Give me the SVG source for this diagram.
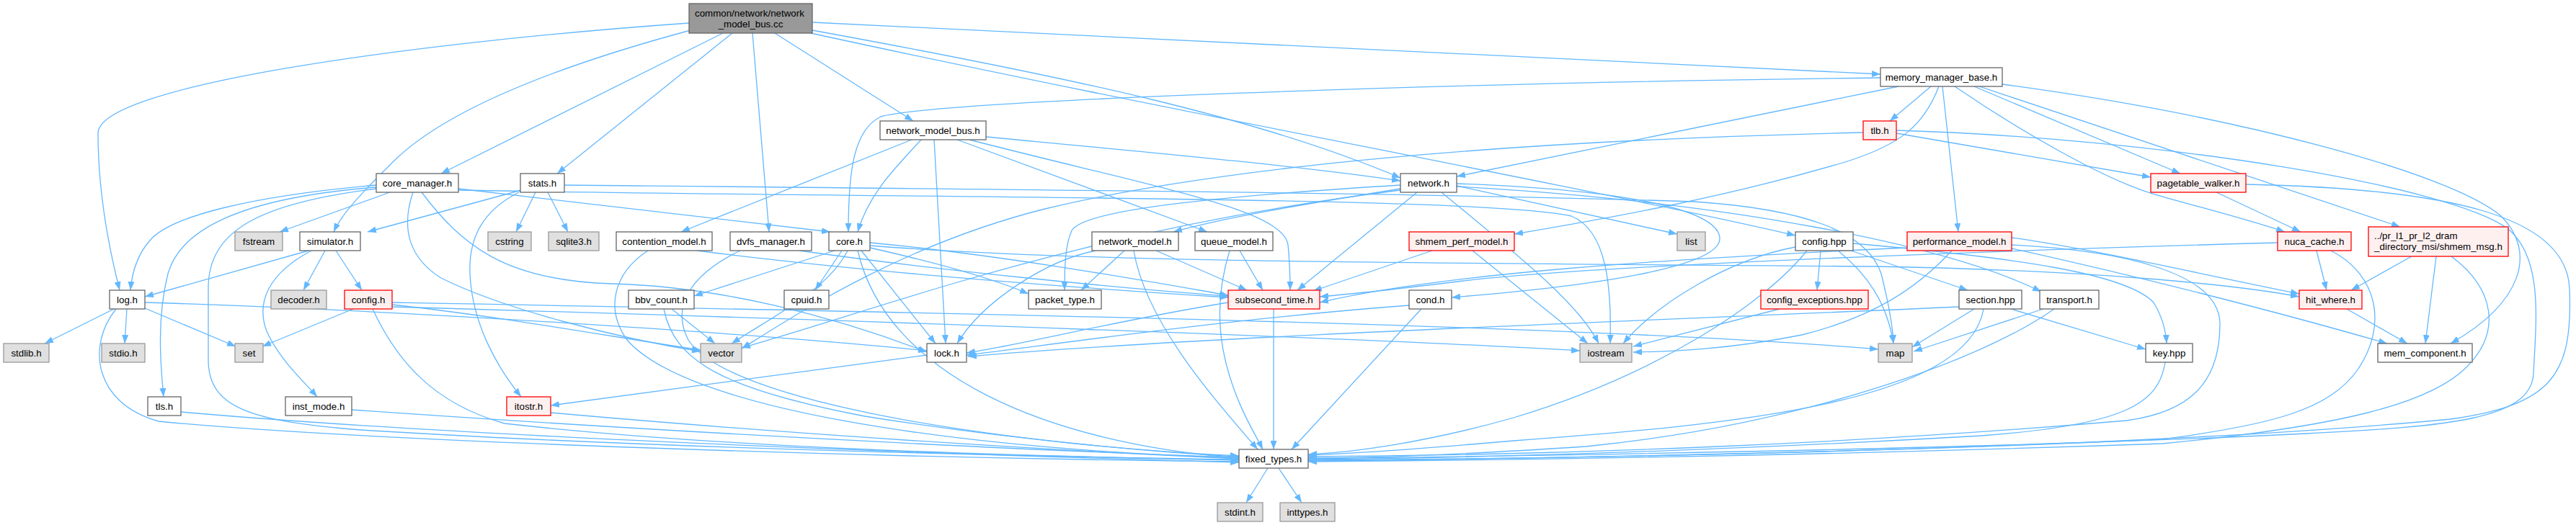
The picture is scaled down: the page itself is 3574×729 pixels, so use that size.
<svg xmlns="http://www.w3.org/2000/svg" width="3574" height="729" viewBox="0 0 3574 729">
<defs>
<marker id="a" markerWidth="12" markerHeight="9" refX="12" refY="4.5" orient="auto" markerUnits="userSpaceOnUse" viewBox="0 0 12 9"><path d="M0,0 L12,4.5 L0,9 z" fill="#63b8ff"/></marker>
<style>
.e path{fill:none;stroke:#63b8ff;stroke-width:1.3;marker-end:url(#a)}
rect{stroke-width:1.3}
.w rect{fill:#ffffff;stroke:#666666}
.g rect{fill:#e0e0e0;stroke:#999999}
.r rect{fill:#fff0f0;stroke:#ff0000}
.k rect{fill:#999999;stroke:#666666}
text{font-family:"Liberation Sans",Arial,Helvetica,sans-serif;font-size:13.33px;fill:#000000;text-anchor:middle}
text.s{text-anchor:start}
</style>
</defs>
<rect width="3574" height="729" fill="#ffffff"/>
<g class="e" id="edges">
<path d="M956,32 C560,60 136,120 136,185 C136,260 150,340 166,403"/>
<path d="M958,42 C780,90 620,150 545,225 C505,265 475,295 463,322"/>
<path d="M1003,46 L612,241"/>
<path d="M1016,46 L773,241"/>
<path d="M1044,46 L1067,322"/>
<path d="M1075,46 L1267,168"/>
<path d="M1127,31 C1700,55 2200,85 2609,103"/>
<path d="M1127,42 C1500,110 1750,165 1943,247"/>
<path d="M1125,46 C1600,150 2250,270 2491,327"/>
<path d="M541,267 L388,322"/>
<path d="M522,257 C350,272 235,300 207,335 C190,355 183,380 181,403"/>
<path d="M522,260 C330,275 250,320 233,380 C218,440 222,500 227,551"/>
<path d="M522,262 C360,282 289,320 289,400 L289,500 C289,565 345,585 500,597 C900,622 1400,633 1719,638"/>
<path d="M636,262 L1152,322"/>
<path d="M585,267 C640,340 700,390 850,394 C1000,398 1160,440 1286,489"/>
<path d="M573,267 C555,320 570,360 612,386 C700,430 860,470 972,488"/>
<path d="M636,264 C1300,276 2050,272 2180,300 C2230,320 2236,400 2234,477"/>
<path d="M723,264 L510,322"/>
<path d="M743,267 L716,322"/>
<path d="M760,267 L788,322"/>
<path d="M720,267 C670,292 650,330 652,380 C655,450 690,510 723,551"/>
<path d="M783,257 C1300,262 2000,268 2350,280 C2500,290 2590,320 2610,380 C2620,420 2626,450 2627,477"/>
<path d="M428,348 L201,412"/>
<path d="M432,348 C372,380 355,420 370,460 C388,500 422,530 440,551"/>
<path d="M451,348 L421,403"/>
<path d="M466,348 L502,403"/>
<path d="M490,429 L364,481"/>
<path d="M517,429 C550,500 600,560 700,588 C1000,622 1400,633 1719,639"/>
<path d="M544,423 C700,440 850,468 972,486"/>
<path d="M544,420 C1200,432 2200,450 2606,485"/>
<path d="M544,426 C1200,445 1900,470 2192,487"/>
<path d="M158,429 L62,477"/>
<path d="M176,429 L173,477"/>
<path d="M201,428 L327,481"/>
<path d="M161,429 C120,480 130,560 220,585 C500,612 1200,636 1719,641"/>
<path d="M201,420 C600,432 1100,468 1286,487"/>
<path d="M251,572 C600,603 1200,628 1719,642"/>
<path d="M488,569 C900,598 1400,625 1719,635"/>
<path d="M764,573 C1100,603 1450,625 1719,637"/>
<path d="M1286,493 L764,563"/>
<path d="M932,429 L992,477"/>
<path d="M921,429 C935,500 1000,540 1200,578 C1400,610 1600,628 1719,634"/>
<path d="M1158,348 L963,411"/>
<path d="M1168,348 L1131,403"/>
<path d="M1176,348 C1150,400 1080,435 1015,477"/>
<path d="M1195,348 L1298,477"/>
<path d="M1207,344 C1300,365 1380,388 1427,408"/>
<path d="M1207,337 C1400,355 1600,392 1704,410"/>
<path d="M1190,348 C1230,520 1450,615 1719,636"/>
<path d="M1207,341 C1500,365 2000,365 2600,370 C2900,375 3100,395 3190,412"/>
<path d="M967,348 C1200,378 1500,400 1704,413"/>
<path d="M899,348 C850,380 840,430 870,472 C950,565 1300,622 1719,636"/>
<path d="M1027,348 C960,380 930,425 955,472 C1010,560 1400,618 1719,633"/>
<path d="M1109,348 C1300,375 1550,400 1704,411"/>
<path d="M1368,190 C1600,212 1800,230 1943,251"/>
<path d="M1265,194 L945,322"/>
<path d="M1278,194 C1240,235 1205,270 1190,322"/>
<path d="M1296,194 L1312,477"/>
<path d="M1328,194 L1675,322"/>
<path d="M1345,194 C1600,260 1780,290 1787,340 C1790,370 1790,385 1790,403"/>
<path d="M2021,258 L2327,325"/>
<path d="M1943,262 C1800,285 1700,302 1628,322"/>
<path d="M1943,257 C1700,272 1505,290 1487,320 C1478,340 1477,370 1477,403"/>
<path d="M1966,267 L1800,403"/>
<path d="M2021,255 C2250,263 2382,290 2386,330 C2390,372 2200,398 2014,413"/>
<path d="M2021,259 C2400,280 2700,340 2832,405"/>
<path d="M1943,264 C1500,320 1250,420 1029,483"/>
<path d="M2000,267 C2100,350 2190,420 2218,477"/>
<path d="M1560,348 L1500,403"/>
<path d="M1604,348 L1730,403"/>
<path d="M1573,348 C1590,450 1690,560 1745,624"/>
<path d="M1520,348 C1450,362 1362,420 1328,477"/>
<path d="M1720,348 L1752,403"/>
<path d="M1706,348 C1690,400 1688,450 1700,500 C1714,560 1740,600 1752,624"/>
<path d="M1987,348 L1822,404"/>
<path d="M2043,348 L2203,477"/>
<path d="M2609,108 C2000,115 1300,140 1222,162 C1185,180 1177,235 1177,322"/>
<path d="M2634,120 L2021,245"/>
<path d="M2679,120 L2622,168"/>
<path d="M2690,120 C2670,172 2640,200 2560,225 C2400,272 2250,300 2101,325"/>
<path d="M2695,120 L2717,322"/>
<path d="M2712,120 C2800,180 2920,250 2990,270 C3060,290 3120,305 3170,322"/>
<path d="M2739,120 L3025,241"/>
<path d="M2746,120 L3330,315"/>
<path d="M2778,117 C3100,160 3400,240 3470,300 C3520,350 3500,420 3400,477"/>
<path d="M2631,185 L2984,246"/>
<path d="M2631,181 C3000,192 3400,258 3480,318 C3530,360 3518,450 3515,520 C3510,582 3400,592 3200,602 C2800,622 2200,632 1815,637"/>
<path d="M2585,184 C2100,195 1700,230 1450,290 C1250,340 1100,440 1029,484"/>
<path d="M3075,267 L3192,322"/>
<path d="M3116,256 C3400,262 3560,300 3565,400 C3570,522 3540,562 3400,582 C3000,620 2300,636 1815,639"/>
<path d="M3214,348 L3228,403"/>
<path d="M3234,348 C3300,382 3312,452 3272,512 C3232,570 3150,590 3000,610 C2600,628 2200,636 1815,640"/>
<path d="M3160,337 C2700,350 2200,370 2030,390 C1950,400 1880,408 1831,412"/>
<path d="M3346,356 L3262,403"/>
<path d="M3380,356 L3365,477"/>
<path d="M3401,356 C3460,400 3472,460 3422,510 C3372,560 3250,592 3000,616 C2600,630 2200,638 1815,641"/>
<path d="M3256,429 L3340,477"/>
<path d="M2791,330 C2900,345 3050,380 3190,408"/>
<path d="M2791,345 C2950,380 3150,430 3312,477"/>
<path d="M2791,340 C2950,348 3080,380 3080,450 C3080,530 3040,572 2950,584 C2600,614 2200,632 1815,634"/>
<path d="M2708,348 C2660,400 2600,440 2500,465 C2400,485 2320,488 2266,489"/>
<path d="M2646,344 C2300,360 2000,380 1831,420"/>
<path d="M2526,348 L2521,403"/>
<path d="M2568,348 L2730,403"/>
<path d="M2550,348 C2590,380 2618,420 2627,477"/>
<path d="M2491,343 C2400,360 2300,420 2252,477"/>
<path d="M2507,348 C2450,420 2300,520 2100,580 C1980,614 1880,628 1815,631"/>
<path d="M2571,338 C2800,358 2950,380 2988,420 C3000,440 3005,460 3006,477"/>
<path d="M2469,429 L2266,481"/>
<path d="M2790,429 L2977,485"/>
<path d="M2739,429 L2653,482"/>
<path d="M2752,429 C2730,560 2400,590 2100,612 C1950,625 1870,630 1815,632"/>
<path d="M2718,426 C2300,445 1700,465 1343,495"/>
<path d="M2835,429 L2655,488"/>
<path d="M2850,429 C2750,500 2500,590 2200,620 C2000,633 1900,636 1815,636"/>
<path d="M3004,503 C2995,560 2950,590 2750,605 C2400,625 2100,635 1815,638"/>
<path d="M1767,429 L1767,624"/>
<path d="M1704,420 C1550,445 1420,478 1341,490"/>
<path d="M1972,429 L1792,624"/>
<path d="M1955,424 C1700,443 1450,480 1341,493"/>
<path d="M1759,650 L1729,698"/>
<path d="M1774,650 L1806,698"/>
</g>
<g id="n_root" class="k"><rect x="956" y="5" width="171" height="41"/><text class="s" x="964" y="22.5">common/network/network</text><text x="1041.5" y="37.5">_model_bus.cc</text></g>
<g id="n_memory_manager_base" class="w"><rect x="2609" y="94" width="169" height="26"/><text x="2693.5" y="111.5">memory_manager_base.h</text></g>
<g id="n_network_model_bus_h" class="w"><rect x="1221" y="168" width="147" height="26"/><text x="1294.5" y="185.5">network_model_bus.h</text></g>
<g id="n_tlb" class="r"><rect x="2585" y="168" width="46" height="26"/><text x="2608" y="185.5">tlb.h</text></g>
<g id="n_core_manager" class="w"><rect x="522" y="241" width="114" height="26"/><text x="579" y="258.5">core_manager.h</text></g>
<g id="n_stats" class="w"><rect x="722" y="241" width="61" height="26"/><text x="752.5" y="258.5">stats.h</text></g>
<g id="n_network" class="w"><rect x="1943" y="241" width="78" height="26"/><text x="1982" y="258.5">network.h</text></g>
<g id="n_pagetable_walker" class="r"><rect x="2984" y="241" width="132" height="26"/><text x="3050" y="258.5">pagetable_walker.h</text></g>
<g id="n_fstream" class="g"><rect x="326" y="322" width="66" height="26"/><text x="359" y="339.5">fstream</text></g>
<g id="n_simulator" class="w"><rect x="416" y="322" width="84" height="26"/><text x="458" y="339.5">simulator.h</text></g>
<g id="n_cstring" class="g"><rect x="677" y="322" width="60" height="26"/><text x="707" y="339.5">cstring</text></g>
<g id="n_sqlite3" class="g"><rect x="761" y="322" width="70" height="26"/><text x="796" y="339.5">sqlite3.h</text></g>
<g id="n_contention_model" class="w"><rect x="855" y="322" width="133" height="26"/><text x="921.5" y="339.5">contention_model.h</text></g>
<g id="n_dvfs_manager" class="w"><rect x="1013" y="322" width="113" height="26"/><text x="1069.5" y="339.5">dvfs_manager.h</text></g>
<g id="n_core" class="w"><rect x="1150" y="322" width="57" height="26"/><text x="1178.5" y="339.5">core.h</text></g>
<g id="n_network_model" class="w"><rect x="1515" y="322" width="120" height="26"/><text x="1575" y="339.5">network_model.h</text></g>
<g id="n_queue_model" class="w"><rect x="1658" y="322" width="108" height="26"/><text x="1712" y="339.5">queue_model.h</text></g>
<g id="n_shmem_perf_model" class="r"><rect x="1955" y="322" width="146" height="26"/><text x="2028" y="339.5">shmem_perf_model.h</text></g>
<g id="n_list" class="g"><rect x="2327" y="322" width="39" height="26"/><text x="2346.5" y="339.5">list</text></g>
<g id="n_config_hpp" class="w"><rect x="2491" y="322" width="80" height="26"/><text x="2531" y="339.5">config.hpp</text></g>
<g id="n_performance_model" class="r"><rect x="2646" y="322" width="145" height="26"/><text x="2718.5" y="339.5">performance_model.h</text></g>
<g id="n_nuca_cache" class="r"><rect x="3160" y="322" width="102" height="26"/><text x="3211" y="339.5">nuca_cache.h</text></g>
<g id="n_shmem_msg" class="r"><rect x="3286" y="315" width="194" height="41"/><text class="s" x="3294" y="332">../pr_l1_pr_l2_dram</text><text x="3383" y="347">_directory_msi/shmem_msg.h</text></g>
<g id="n_log" class="w"><rect x="152" y="403" width="49" height="26"/><text x="176.5" y="420.5">log.h</text></g>
<g id="n_decoder" class="g"><rect x="376" y="403" width="77" height="26"/><text x="414.5" y="420.5">decoder.h</text></g>
<g id="n_config_h" class="r"><rect x="478" y="403" width="66" height="26"/><text x="511" y="420.5">config.h</text></g>
<g id="n_bbv_count" class="w"><rect x="872" y="403" width="91" height="26"/><text x="917.5" y="420.5">bbv_count.h</text></g>
<g id="n_cpuid" class="w"><rect x="1088" y="403" width="62" height="26"/><text x="1119" y="420.5">cpuid.h</text></g>
<g id="n_packet_type" class="w"><rect x="1427" y="403" width="101" height="26"/><text x="1477.5" y="420.5">packet_type.h</text></g>
<g id="n_subsecond_time" class="r"><rect x="1704" y="403" width="127" height="26"/><text x="1767.5" y="420.5">subsecond_time.h</text></g>
<g id="n_cond" class="w"><rect x="1955" y="403" width="59" height="26"/><text x="1984.5" y="420.5">cond.h</text></g>
<g id="n_config_exceptions" class="r"><rect x="2443" y="403" width="149" height="26"/><text x="2517.5" y="420.5">config_exceptions.hpp</text></g>
<g id="n_section" class="w"><rect x="2718" y="403" width="87" height="26"/><text x="2761.5" y="420.5">section.hpp</text></g>
<g id="n_transport" class="w"><rect x="2830" y="403" width="82" height="26"/><text x="2871" y="420.5">transport.h</text></g>
<g id="n_hit_where" class="r"><rect x="3190" y="403" width="87" height="26"/><text x="3233.5" y="420.5">hit_where.h</text></g>
<g id="n_stdlib" class="g"><rect x="5" y="477" width="63" height="26"/><text x="36.5" y="494.5">stdlib.h</text></g>
<g id="n_stdio" class="g"><rect x="141" y="477" width="60" height="26"/><text x="171" y="494.5">stdio.h</text></g>
<g id="n_set" class="g"><rect x="326" y="477" width="39" height="26"/><text x="345.5" y="494.5">set</text></g>
<g id="n_vector" class="g"><rect x="972" y="477" width="57" height="26"/><text x="1000.5" y="494.5">vector</text></g>
<g id="n_lock" class="w"><rect x="1286" y="477" width="55" height="26"/><text x="1313.5" y="494.5">lock.h</text></g>
<g id="n_iostream" class="g"><rect x="2192" y="477" width="72" height="26"/><text x="2228" y="494.5">iostream</text></g>
<g id="n_map" class="g"><rect x="2606" y="477" width="47" height="26"/><text x="2629.5" y="494.5">map</text></g>
<g id="n_key" class="w"><rect x="2977" y="477" width="65" height="26"/><text x="3009.5" y="494.5">key.hpp</text></g>
<g id="n_mem_component" class="w"><rect x="3299" y="477" width="131" height="26"/><text x="3364.5" y="494.5">mem_component.h</text></g>
<g id="n_tls" class="w"><rect x="205" y="551" width="46" height="26"/><text x="228" y="568.5">tls.h</text></g>
<g id="n_inst_mode" class="w"><rect x="396" y="551" width="92" height="26"/><text x="442" y="568.5">inst_mode.h</text></g>
<g id="n_itostr" class="r"><rect x="703" y="551" width="61" height="26"/><text x="733.5" y="568.5">itostr.h</text></g>
<g id="n_fixed_types" class="w"><rect x="1719" y="624" width="96" height="26"/><text x="1767" y="641.5">fixed_types.h</text></g>
<g id="n_stdint" class="g"><rect x="1689" y="698" width="63" height="26"/><text x="1720.5" y="715.5">stdint.h</text></g>
<g id="n_inttypes" class="g"><rect x="1776" y="698" width="76" height="26"/><text x="1814" y="715.5">inttypes.h</text></g>
</svg>
